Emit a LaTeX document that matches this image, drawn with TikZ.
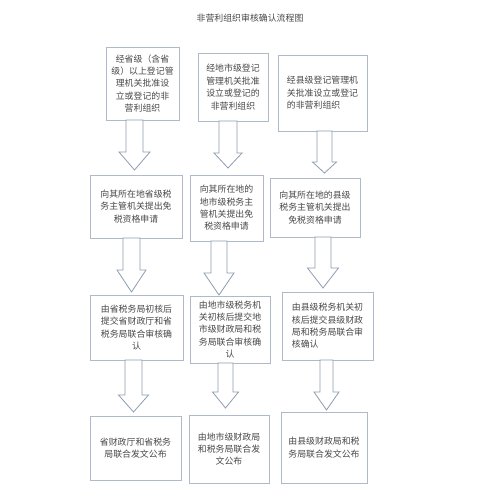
\documentclass[tikz,border=0pt]{standalone}
\usepackage{fontspec}
\newfontfamily\cjk{Noto Sans CJK SC}
\definecolor{boxline}{HTML}{AEBACA}
\definecolor{arrline}{HTML}{8E9DB2}
\definecolor{txt}{HTML}{484848}
\newcommand\blockarrow[6]{%
  \draw[barr] (#1-#5,#2) -- (#1+#5,#2) -- (#1+#5,#3) -- (#1+#6,#3) -- (#1,#4) -- (#1-#6,#3) -- (#1-#5,#3) -- cycle;}
\tikzset{
  box/.style={draw=boxline, line width=0.9pt, fill=white, inner sep=2pt, align=center, text=txt,
    font=\cjk\fontsize{8.9}{12.4}\selectfont},
  boxl/.style={box, align=left},
  barr/.style={draw=arrline, line width=0.8pt, fill=white, line join=miter},
  ttl/.style={text=txt, font=\cjk\fontsize{8.9}{10}\selectfont}
}
\begin{document}
\begin{tikzpicture}[x=1pt,y=-1pt]
\useasboundingbox (0,0) rectangle (500,497);
\fill[white] (0,0) rectangle (500,497);
\node[ttl] (title) at (250,18) {非营利组织审核确认流程图};
% row 1
\node[box, minimum width=73pt, minimum height=73pt] (r1c1) at (142.5,83.5) {经省级（含省\\级）以上登记管\\理机关批准设\\立或登记的非\\营利组织};
\node[box, minimum width=70pt, minimum height=68pt] (r1c2) at (233,87) {经地市级登记\\管理机关批准\\设立或登记的\\非营利组织};
\node[boxl, minimum width=89pt, minimum height=76pt] (r1c3) at (322.5,93) {经县级登记管理机\\关批准设立或登记\\的非营利组织};
% row 2
\node[box, minimum width=92pt, minimum height=63pt] (r2c1) at (136,206.5) {向其所在地省级税\\务主管机关提出免\\税资格申请};
\node[box, minimum width=73pt, minimum height=66pt] (r2c2) at (226.5,208) {向其所在地的\\地市级税务主\\管机关提出免\\税资格申请};
\node[box, minimum width=90pt, minimum height=59pt] (r2c3) at (315,207.5) {向其所在地的县级\\税务主管机关提出\\免税资格申请};
% row 3
\node[box, minimum width=93pt, minimum height=65pt] (r3c1) at (136.5,327.5) {由省税务局初核后\\提交省财政厅和省\\税务局联合审核确\\认};
\node[box, minimum width=80pt, minimum height=67pt] (r3c2) at (230,329.5) {由地市级税务机\\关初核后提交地\\市级财政局和税\\务局联合审核确\\认};
\node[boxl, minimum width=91pt, minimum height=68pt] (r3c3) at (327.5,326) {由县级税务机关初\\核后提交县级财政\\局和税务局联合审\\核确认};
% row 4
\node[box, minimum width=91pt, minimum height=64pt] (r4c1) at (135.5,448) {省财政厅和省税务\\局联合发文公布};
\node[box, minimum width=80pt, minimum height=68pt] (r4c2) at (229,449) {由地市级财政局\\和税务局联合发\\文公布};
\node[box, minimum width=86pt, minimum height=71pt] (r4c3) at (324,447.5) {由县级财政局和税\\务局联合发文公布};
% arrows row 1 -> 2
\blockarrow{134.5}{120}{152}{170}{8.5}{15.5}
\blockarrow{228}{121}{153}{168}{9}{14}
\blockarrow{324.5}{131}{162}{173}{7.5}{12}
% arrows row 2 -> 3
\blockarrow{131.5}{238}{270}{292}{8.5}{14.5}
\blockarrow{219}{241}{273}{295}{8}{15}
\blockarrow{323}{237}{268}{288}{8}{15.5}
% arrows row 3 -> 4
\blockarrow{133.5}{360}{395}{412}{8.5}{15}
\blockarrow{225.5}{363}{392}{408}{7.5}{13}
\blockarrow{326.5}{360}{392}{410}{6.5}{12.5}
\end{tikzpicture}
\end{document}
